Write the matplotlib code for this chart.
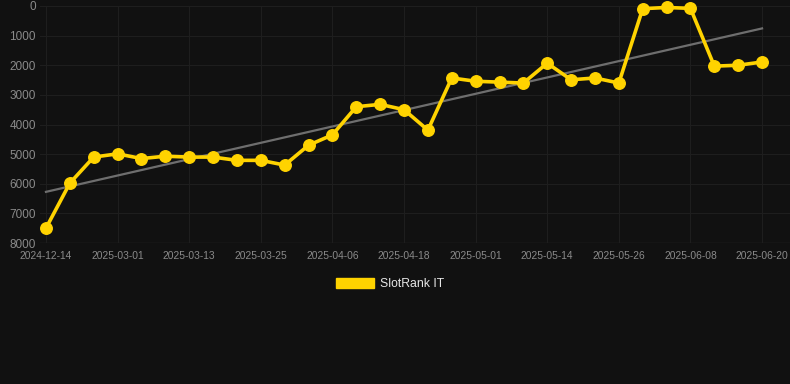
import matplotlib
matplotlib.use("Agg")
import matplotlib.pyplot as plt
import numpy as np
from matplotlib.patches import Patch

dates = ["2024-12-14", "", "", "2025-03-01", "", "", "2025-03-13", "", "", "2025-03-25",
         "", "", "2025-04-06", "", "", "2025-04-18", "", "", "2025-05-01", "", "",
         "2025-05-14", "", "", "2025-05-26", "", "", "2025-06-08", "", "", "2025-06-20"]
ranks = [7500, 5980, 5100, 4990, 5150, 5070, 5100, 5100, 5210, 5210,
         5370, 4700, 4350, 3400, 3320, 3500, 4190, 2430, 2540, 2570,
         2600, 1930, 2490, 2430, 2600, 90, 50, 80, 2030, 2000, 1890]
yticks = [0, 1000, 2000, 3000, 4000, 5000, 6000, 7000, 8000]
series_name = "SlotRank IT"

plt.rcParams['font.family'] = ['Liberation Sans', 'DejaVu Sans']
bg = "#111111"
fig = plt.figure(figsize=(7.9, 3.84), dpi=100, facecolor=bg)
ax = fig.add_axes([40/790, 141/384, 750/790, 237/384], facecolor=bg)

x = np.arange(len(ranks))
coef = np.polyfit(x, ranks, 1)
ax.plot(x, np.polyval(coef, x), color="#6e6e6e", lw=1.6, zorder=2)
ax.plot(x, ranks, color="#FFD300", lw=2.6, marker="o", ms=8.3, zorder=3, clip_on=False)

ax.set_xlim(-0.25, 31.17)
ax.set_ylim(8000, 0)
ax.set_yticks(yticks)
ax.set_yticklabels([str(v) for v in yticks])
tick_idx = [i for i, d in enumerate(dates) if d]
ax.set_xticks(tick_idx)
ax.set_xticklabels([dates[i] for i in tick_idx])
ax.tick_params(axis='y', length=0, pad=3, labelsize=8.5, labelcolor="#8a8a8a")
ax.tick_params(axis='x', length=0, pad=6, labelsize=7.4, labelcolor="#8a8a8a")
ax.grid(True, color="#1e1e1e", lw=0.8, zorder=0)
for s in ax.spines.values():
    s.set_visible(False)
ax.axhline(8000, color="#2a2a2a", lw=1, zorder=1)

leg = fig.legend(handles=[Patch(facecolor="#FFD300", edgecolor="#FFD300", label=series_name)],
                 loc="center", bbox_to_anchor=(390/790, 1 - 284/384), frameon=False,
                 handlelength=3.1, handleheight=0.9, fontsize=8.8, labelcolor="#e6e6e6",
                 handletextpad=0.55)

fig.savefig("out.png", dpi=100, facecolor=bg)
